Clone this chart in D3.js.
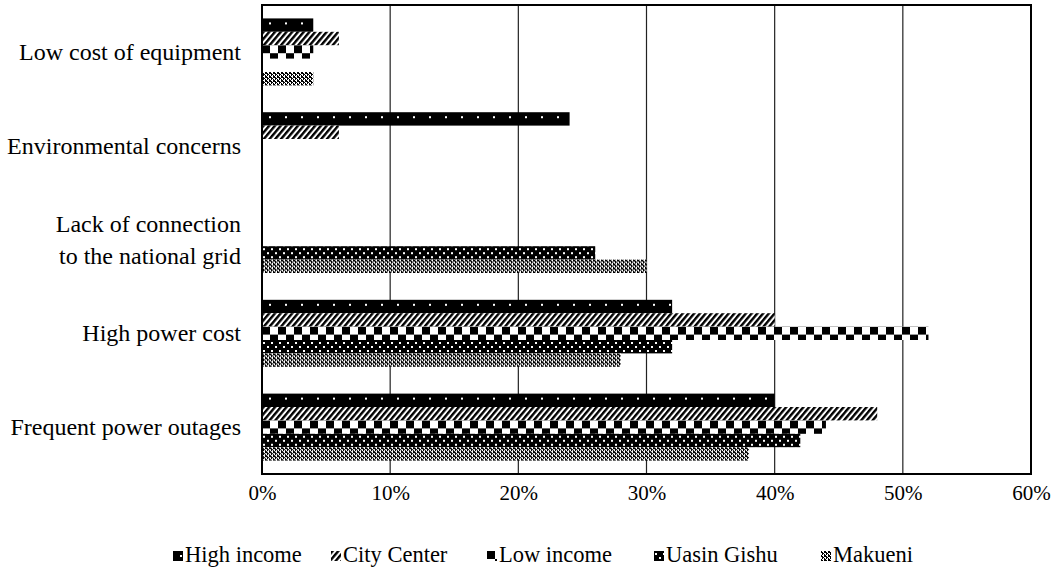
<!DOCTYPE html>
<html>
<head>
<meta charset="utf-8">
<script src="https://cdn.jsdelivr.net/npm/d3@7"></script>
<style>
  html, body { margin: 0; padding: 0; background: #fff; }
  svg { display: block; }
  text { font-family: "Liberation Serif", "Times New Roman", serif; fill: #000; }
</style>
</head>
<body>
<svg id="chart" width="1053" height="575"></svg>
<script>
// Reasons for choosing a power source, by respondent group (share of respondents)
const categories = [
  "Low cost of equipment",
  "Environmental concerns",
  "Lack of connection\nto the national grid",
  "High power cost",
  "Frequent power outages"
];
const seriesNames = ["High income", "City Center", "Low income", "Uasin Gishu", "Makueni"];
const highIncome = [4, 24, 0, 32, 40];
const cityCenter = [6, 6, 0, 40, 48];
const lowIncome  = [4, 0, 0, 52, 44];
const uasinGishu = [0, 0, 26, 32, 42];
const makueni    = [4, 0, 30, 28, 38];
const xTicks = [0, 10, 20, 30, 40, 50, 60];

const seriesValues = [highIncome, cityCenter, lowIncome, uasinGishu, makueni];
const patternIds = ["p-hi", "p-cc", "p-li", "p-ug", "p-mk"];

const svg = d3.select("#chart");
const margin = { left: 262, right: 22, top: 5, bottom: 101 };
const W = 1053, H = 575;
const x0 = margin.left, x1 = W - margin.right;
const y0 = margin.top, y1 = H - margin.bottom;

// ---- fill patterns ----
const defs = svg.append("defs");

// High income: black with sparse white dots
let p = defs.append("pattern").attr("id", "p-hi").attr("patternUnits", "userSpaceOnUse")
  .attr("width", 16).attr("height", 40);
p.append("rect").attr("width", 16).attr("height", 40).attr("fill", "#000");
p.append("rect").attr("x", 7).attr("y", 4).attr("width", 2).attr("height", 2).attr("fill", "#fff");

// City Center: forward diagonal stripes
p = defs.append("pattern").attr("id", "p-cc").attr("patternUnits", "userSpaceOnUse")
  .attr("width", 4.4).attr("height", 10).attr("patternTransform", "rotate(40)");
p.append("rect").attr("width", 4.4).attr("height", 10).attr("fill", "#fff");
p.append("rect").attr("width", 2.4).attr("height", 10).attr("fill", "#000");

// Low income: large checkerboard
p = defs.append("pattern").attr("id", "p-li").attr("patternUnits", "userSpaceOnUse")
  .attr("width", 16).attr("height", 16);
p.append("rect").attr("width", 16).attr("height", 16).attr("fill", "#fff");
p.append("rect").attr("x", 0).attr("y", 0).attr("width", 8).attr("height", 8).attr("fill", "#000");
p.append("rect").attr("x", 8).attr("y", 8).attr("width", 8).attr("height", 8).attr("fill", "#000");

// Uasin Gishu: black with dense staggered white dots
p = defs.append("pattern").attr("id", "p-ug").attr("patternUnits", "userSpaceOnUse")
  .attr("width", 8).attr("height", 8);
p.append("rect").attr("width", 8).attr("height", 8).attr("fill", "#000");
p.append("rect").attr("x", 1).attr("y", 2).attr("width", 2).attr("height", 2).attr("fill", "#fff");
p.append("rect").attr("x", 5).attr("y", 6).attr("width", 2).attr("height", 2).attr("fill", "#fff");

// Makueni: fine dark checker
p = defs.append("pattern").attr("id", "p-mk").attr("patternUnits", "userSpaceOnUse")
  .attr("width", 4).attr("height", 4);
p.append("rect").attr("width", 4).attr("height", 4).attr("fill", "#000");
p.append("rect").attr("x", 1).attr("y", 0).attr("width", 2).attr("height", 1).attr("fill", "#fff");
p.append("rect").attr("x", 3).attr("y", 2).attr("width", 1).attr("height", 1).attr("fill", "#fff");
p.append("rect").attr("x", 0).attr("y", 2).attr("width", 1).attr("height", 1).attr("fill", "#fff");
p.append("rect").attr("x", 2).attr("y", 1).attr("width", 1).attr("height", 1).attr("fill", "#fff");
p.append("rect").attr("x", 0).attr("y", 3).attr("width", 1).attr("height", 1).attr("fill", "#fff");
p.append("rect").attr("x", 2).attr("y", 3).attr("width", 1).attr("height", 1).attr("fill", "#fff");

// ---- scales ----
const x = d3.scaleLinear().domain([0, 60]).range([x0, x1]);
const y = d3.scaleBand().domain(categories).range([y0, y1]).paddingInner(0.286).paddingOuter(0.143);
const ySub = d3.scaleBand().domain(seriesNames).range([0, y.bandwidth()]).padding(0);

// ---- gridlines ----
svg.append("g").selectAll("line")
  .data(xTicks.filter(t => t > 0 && t < 60))
  .join("line")
  .attr("x1", d => x(d)).attr("x2", d => x(d))
  .attr("y1", y0).attr("y2", y1)
  .attr("stroke", "#222").attr("stroke-width", 1.2);

// ---- bars ----
const groups = svg.append("g").selectAll("g")
  .data(categories)
  .join("g")
  .attr("transform", d => `translate(0,${y(d)})`);

groups.each(function(cat, ci) {
  const g = d3.select(this);
  seriesNames.forEach((s, si) => {
    const v = seriesValues[si][ci];
    if (v <= 0) return;
    g.append("g")
      .attr("transform", `translate(${x(0)},${ySub(s)})`)
      .append("rect")
      .attr("x", 0).attr("y", 0)
      .attr("width", x(v) - x(0))
      .attr("height", ySub.bandwidth())
      .attr("fill", `url(#${patternIds[si]})`);
  });
});

// ---- frame ----
svg.append("rect")
  .attr("x", x0).attr("y", y0)
  .attr("width", x1 - x0).attr("height", y1 - y0)
  .attr("fill", "none").attr("stroke", "#000").attr("stroke-width", 2);

// ---- x axis labels ----
const xAxis = d3.axisBottom(x).tickValues(xTicks).tickFormat(d => d + "%").tickSize(0).tickPadding(11);
const xg = svg.append("g").attr("transform", `translate(0,${y1})`).call(xAxis);
xg.select(".domain").remove();
xg.selectAll("text").attr("font-size", 21).attr("font-family", "Liberation Serif, serif").attr("fill", "#000");

// ---- category labels ----
const labelSize = 24;
const labels = svg.append("g").selectAll("text")
  .data(categories)
  .join("text")
  .attr("text-anchor", "end")
  .attr("font-size", labelSize)
  .attr("x", x0 - 21)
  .attr("y", d => y(d) + y.bandwidth() / 2);
labels.each(function(d) {
  const lines = d.split("\n");
  const t = d3.select(this);
  const lh = 32;
  lines.forEach((ln, i) => {
    t.append("tspan")
      .attr("x", x0 - 21)
      .attr("y", y(d) + y.bandwidth() / 2 + (i - (lines.length - 1) / 2) * lh + 8)
      .text(ln);
  });
});

// ---- legend ----
const legendX = [173, 331, 487, 654, 821];
const leg = svg.append("g").selectAll("g")
  .data(seriesNames)
  .join("g")
  .attr("transform", (d, i) => `translate(${legendX[i]},551)`);
leg.append("rect")
  .attr("width", 10).attr("height", 10)
  .attr("fill", (d, i) => `url(#${patternIds[i]})`);
leg.append("text")
  .attr("x", 12).attr("y", 11)
  .attr("font-size", 22.5)
  .text(d => d);
</script>
</body>
</html>
